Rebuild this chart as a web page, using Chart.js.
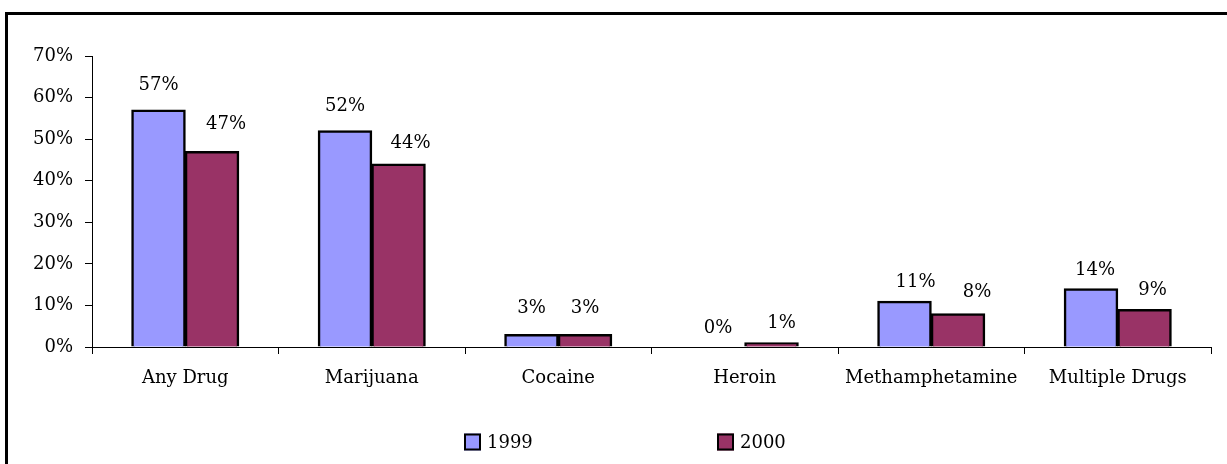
<!DOCTYPE html>
<html>
<head>
<meta charset="utf-8">
<script src="https://cdn.jsdelivr.net/npm/chart.js@4.4.1/dist/chart.umd.min.js"></script>
<style>
    html, body { margin: 0; padding: 0; background: #fff; overflow: hidden; }
    #frame {
        position: absolute; left: 5px; top: 12px;
        width: 1400px; height: 600px;
        border: 3px solid #000;
    }
    #wrap { position: absolute; left: 0; top: 0; width: 1227px; height: 464px; }
</style>
</head>
<body>
<div id="frame"></div>
<div id="wrap"><canvas id="drugChart" width="1227" height="464"></canvas></div>
<script>
// chart values
const categories = ['Any Drug', 'Marijuana', 'Cocaine', 'Heroin', 'Methamphetamine', 'Multiple Drugs'];
const values1999 = [57, 52, 3, 0, 11, 14];
const values2000 = [47, 44, 3, 1, 8, 9];
const yTicks = [0, 10, 20, 30, 40, 50, 60, 70];
const seriesNames = ['1999', '2000'];

const FONT = '"DejaVu Serif", "Liberation Serif", serif';

// value labels above the bars (small nudges to follow the original placement)
const barLabels = {
    id: 'barLabels',
    afterDatasetsDraw(chart, args, opts) {
        const ctx = chart.ctx;
        ctx.save();
        ctx.font = '18px ' + FONT;
        ctx.fillStyle = '#000';
        ctx.textAlign = 'center';
        ctx.textBaseline = 'alphabetic';
        chart.data.datasets.forEach((ds, di) => {
            const meta = chart.getDatasetMeta(di);
            meta.data.forEach((bar, i) => {
                const n = opts.nudge[di][i];
                ctx.fillText(ds.data[i] + '%', bar.x + n[0], bar.y - opts.gap + n[1]);
            });
        });
        ctx.restore();
    }
};

// legend drawn by hand at the bottom, spaced like the original
const bottomLegend = {
    id: 'bottomLegend',
    afterDraw(chart, args, opts) {
        const ctx = chart.ctx;
        ctx.save();
        ctx.font = '18px ' + FONT;
        ctx.textBaseline = 'middle';
        ctx.textAlign = 'left';
        chart.data.datasets.forEach((ds, i) => {
            const x = opts.x[i];
            const y = opts.y;
            const s = opts.box;
            ctx.fillStyle = ds.backgroundColor;
            ctx.fillRect(x, y - s / 2, s, s);
            ctx.lineWidth = 2;
            ctx.strokeStyle = '#000';
            ctx.strokeRect(x + 1, y - s / 2 + 1, s - 2, s - 2);
            ctx.fillStyle = '#000';
            ctx.fillText(ds.label, x + s + 6, y + 1);
        });
        ctx.restore();
    }
};

const chart = new Chart(document.getElementById('drugChart'), {
    type: 'bar',
    data: {
        labels: categories,
        datasets: [
            {
                label: seriesNames[0],
                data: values1999,
                backgroundColor: '#9999FF',
                borderColor: '#000',
                borderWidth: 2.5,
                inflateAmount: 0.5,
                categoryPercentage: 0.574,
                barPercentage: 1
            },
            {
                label: seriesNames[1],
                data: values2000,
                backgroundColor: '#993366',
                borderColor: '#000',
                borderWidth: 2.5,
                inflateAmount: 0.5,
                categoryPercentage: 0.574,
                barPercentage: 1
            }
        ]
    },
    options: {
        responsive: false,
        animation: false,
        layout: {
            padding: { top: 56, right: 16, bottom: 67, left: 0 }
        },
        plugins: {
            legend: { display: false },
            tooltip: { enabled: false },
            barLabels: {
                gap: 14,
                nudge: [
                    [[0, -6], [0, -6], [0, -8], [0, 0], [11, 0], [4, 0]],
                    [[14, -9], [12, -2], [0, -8], [10, -1], [19, -3], [8, -1]]
                ]
            },
            bottomLegend: { x: [464, 717], y: 442, box: 17 }
        },
        scales: {
            x: {
                offset: true,
                grid: {
                    display: true,
                    offset: true,
                    drawOnChartArea: false,
                    drawTicks: true,
                    tickLength: 7,
                    color: '#000'
                },
                border: { display: true, color: '#000', width: 1 },
                ticks: {
                    color: '#000',
                    padding: 14,
                    maxRotation: 0,
                    font: { family: FONT, size: 18 }
                },
                afterFit: (s) => { s.height = 50; }
            },
            y: {
                min: yTicks[0],
                max: yTicks[yTicks.length - 1],
                afterBuildTicks: (s) => { s.ticks = yTicks.map(v => ({ value: v })); },
                grid: {
                    display: true,
                    drawOnChartArea: false,
                    drawTicks: true,
                    tickLength: 7,
                    color: '#000'
                },
                border: { display: true, color: '#000', width: 1 },
                ticks: {
                    color: '#000',
                    padding: 12,
                    font: { family: FONT, size: 18 },
                    callback: (v) => v + '%'
                },
                afterFit: (s) => { s.width = 92; }
            }
        }
    },
    plugins: [barLabels, bottomLegend]
});
</script>
</body>
</html>
